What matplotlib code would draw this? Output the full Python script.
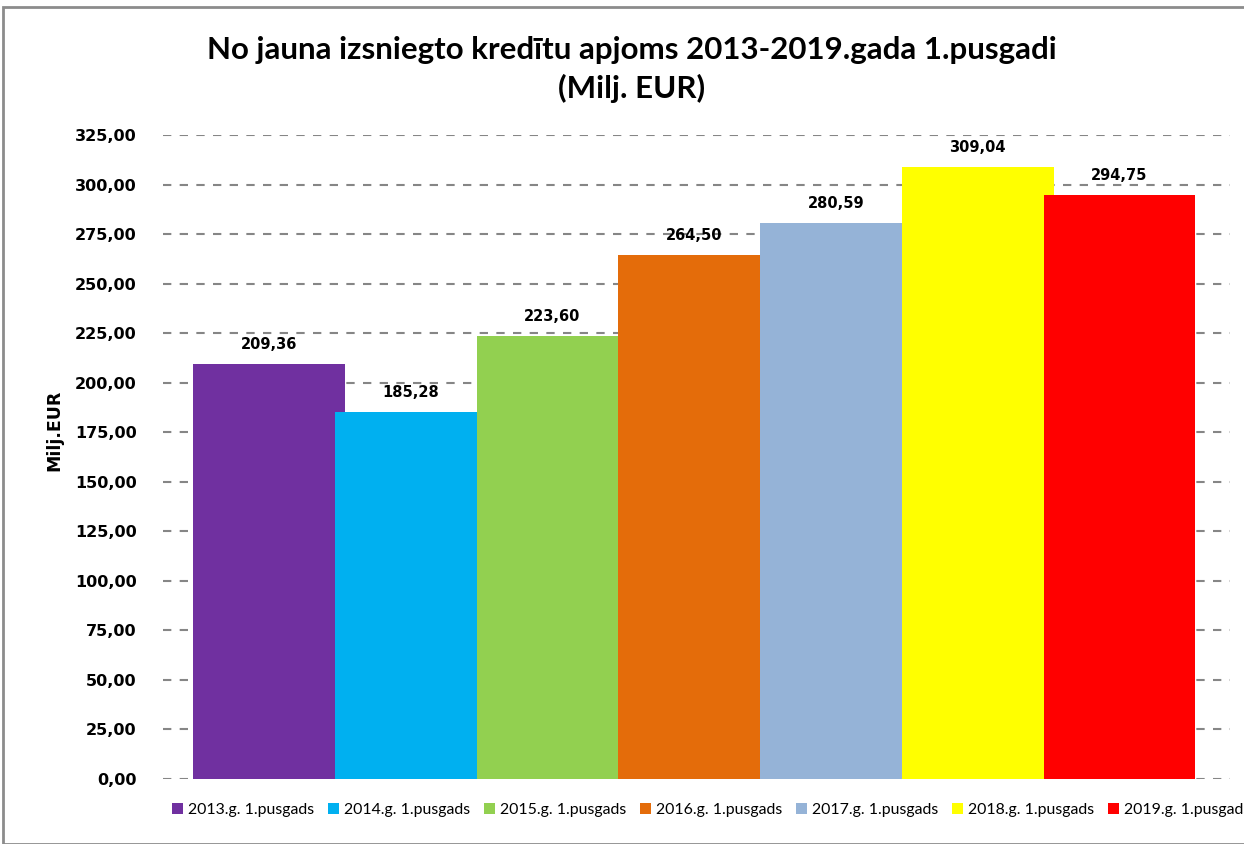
import matplotlib
matplotlib.use("Agg")
import matplotlib.pyplot as plt
from matplotlib.patches import Rectangle, Patch

series = ["2013.g. 1.pusgads", "2014.g. 1.pusgads", "2015.g. 1.pusgads", "2016.g. 1.pusgads",
          "2017.g. 1.pusgads", "2018.g. 1.pusgads", "2019.g. 1.pusgads"]
values = [209.36, 185.28, 223.60, 264.50, 280.59, 309.04, 294.75]
colors = ["#7030A0", "#00B0F0", "#92D050", "#E46C0A", "#95B3D7", "#FFFF00", "#FF0000"]
yticks = [0, 25, 50, 75, 100, 125, 150, 175, 200, 225, 250, 275, 300, 325]

W, H = 1244, 844
fig = plt.figure(figsize=(W / 100, H / 100), dpi=100)
ax = fig.add_axes([163 / W, 1 - 779 / H, (1230 - 163) / W, (779 - 135) / H])

for i, (v, c, s) in enumerate(zip(values, colors, series)):
    ax.bar(i, v, width=1.07, color=c, label=s, zorder=3 + i * 0.01)
    ax.text(i, v + 6, f"{v:.2f}".replace(".", ","), ha="center", va="bottom",
            fontsize=10.5, fontweight="bold", family="DejaVu Sans", zorder=4)

ax.set_xlim(-0.748, 6.78)
ax.set_ylim(0, 325)
ax.set_yticks(yticks)
ax.set_yticklabels([f"{t:.2f}".replace(".", ",") for t in yticks],
                   fontsize=11.5, fontweight="bold", family="DejaVu Sans")
ax.set_xticks([])
ax.tick_params(axis="y", length=0, pad=19)
for sp in ax.spines.values():
    sp.set_visible(False)
ax.yaxis.grid(True, color="#868686", linestyle=(0, (4, 4)), linewidth=1.5, zorder=0)
ax.set_axisbelow(True)
ax.set_ylabel("Milj.EUR", fontsize=12.5, fontweight="bold", family="DejaVu Sans")
ax.yaxis.set_label_coords(-0.0937, 0.542)

fig.text(632 / W, 1 - 50 / H, "No jauna izsniegto kredītu apjoms 2013-2019.gada 1.pusgadi",
         ha="center", va="center", fontsize=22.5, fontweight="bold", family="Lato")
fig.text(632 / W, 1 - 88 / H, "(Milj. EUR)", ha="center", va="center",
         fontsize=22.5, fontweight="bold", family="Lato")

handles = [Patch(facecolor=c, edgecolor="none") for c in colors]
fig.legend(handles, series, loc="center left", bbox_to_anchor=(172 / W, 1 - 810 / H),
           ncol=7, frameon=False, prop={"family": "Lato", "size": 11.4},
           handlelength=0.7, handleheight=0.7, handletextpad=0.3, columnspacing=0.88,
           borderaxespad=0, borderpad=0)

fig.add_artist(Rectangle((3 / W, 0), 1.2, 1 - 7 / H, transform=fig.transFigure,
                         fill=False, edgecolor="#8c8c8c", linewidth=2))

fig.savefig("out.png", dpi=100)
